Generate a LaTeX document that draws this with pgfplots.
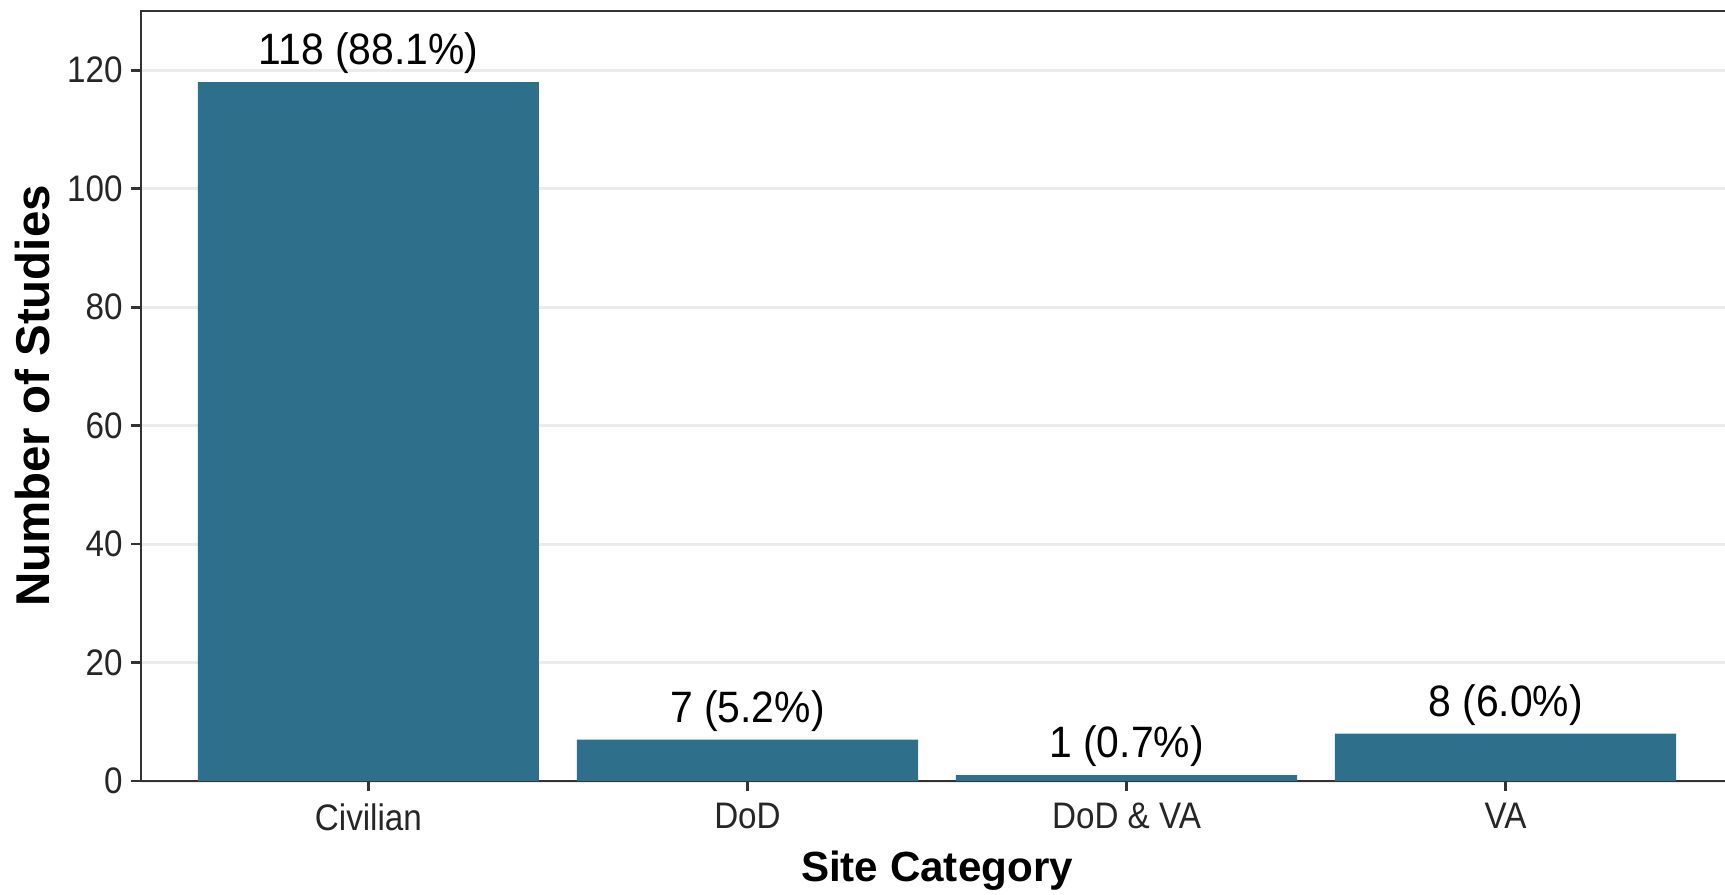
\documentclass[border=0pt]{standalone}
\usepackage{pgfplots}
\pgfplotsset{compat=1.18}
\usepackage{pgfplotstable}
\usepackage{fontspec}
\setmainfont{Liberation Sans}
\newfontfamily\tickfont{Liberation Sans}[FakeStretch=0.9]
\newfontfamily\barfont{Liberation Sans}[FakeStretch=0.93]
\definecolor{barcol}{RGB}{46,112,140}
\definecolor{gridcol}{RGB}{235,235,235}
\definecolor{axcol}{RGB}{51,51,51}
\pgfplotstableread[col sep=comma]{
x,y,lab
1,118,118 (88.1\%)
2,7,7 (5.2\%)
3,1,1 (0.7\%)
4,8,8 (6.0\%)
}\sitedata
\begin{document}
\begin{tikzpicture}
\clip (-14.1mm,-11.3mm) rectangle (158.4mm,78.1mm);
\useasboundingbox (-14.1mm,-11.3mm) rectangle (158.4mm,78.1mm);
\begin{axis}[
  at={(0,0)}, anchor=south west,
  scale only axis,
  width=159.2mm, height=77.0mm,
  xmin=0.4, xmax=4.6,
  ymin=0, ymax=130,
  xtick={1,2,3,4},
  xticklabels={Civilian,DoD,DoD \& VA,VA},
  ytick={0,20,40,60,80,100,120},
  ymajorgrids,
  grid style={gridcol, line width=0.3mm},
  axis line style={axcol, line width=0.28mm},
  tick style={axcol, line width=0.28mm},
  tick align=outside,
  major tick length=1mm,
  xtick pos=bottom, ytick pos=left,
  /pgf/number format/assume math mode=true,
  ticklabel style={font=\tickfont\fontsize{10.5}{12}\selectfont, text=black!85},
  yticklabel style={xshift=0.4mm},
  xlabel={Site Category},
  ylabel={Number of Studies},
  xlabel style={font=\bfseries\fontsize{12}{14}\selectfont, at={(axis description cs:0.5,-0.117)}, anchor=center},
  ylabel style={font=\bfseries\fontsize{13.5}{15}\selectfont, at={(axis description cs:-0.068,0.5)}, anchor=center},
]
\addplot[ybar, bar width=0.9, fill=barcol, draw=none,
  nodes near coords, point meta=explicit symbolic,
  every node near coord/.append style={anchor=base, inner sep=0pt, yshift=1.75mm, font=\barfont\fontsize{12.5}{14}\selectfont, text=black}]
  table[x=x, y=y, meta=lab]{\sitedata};
\end{axis}
\end{tikzpicture}
\end{document}
